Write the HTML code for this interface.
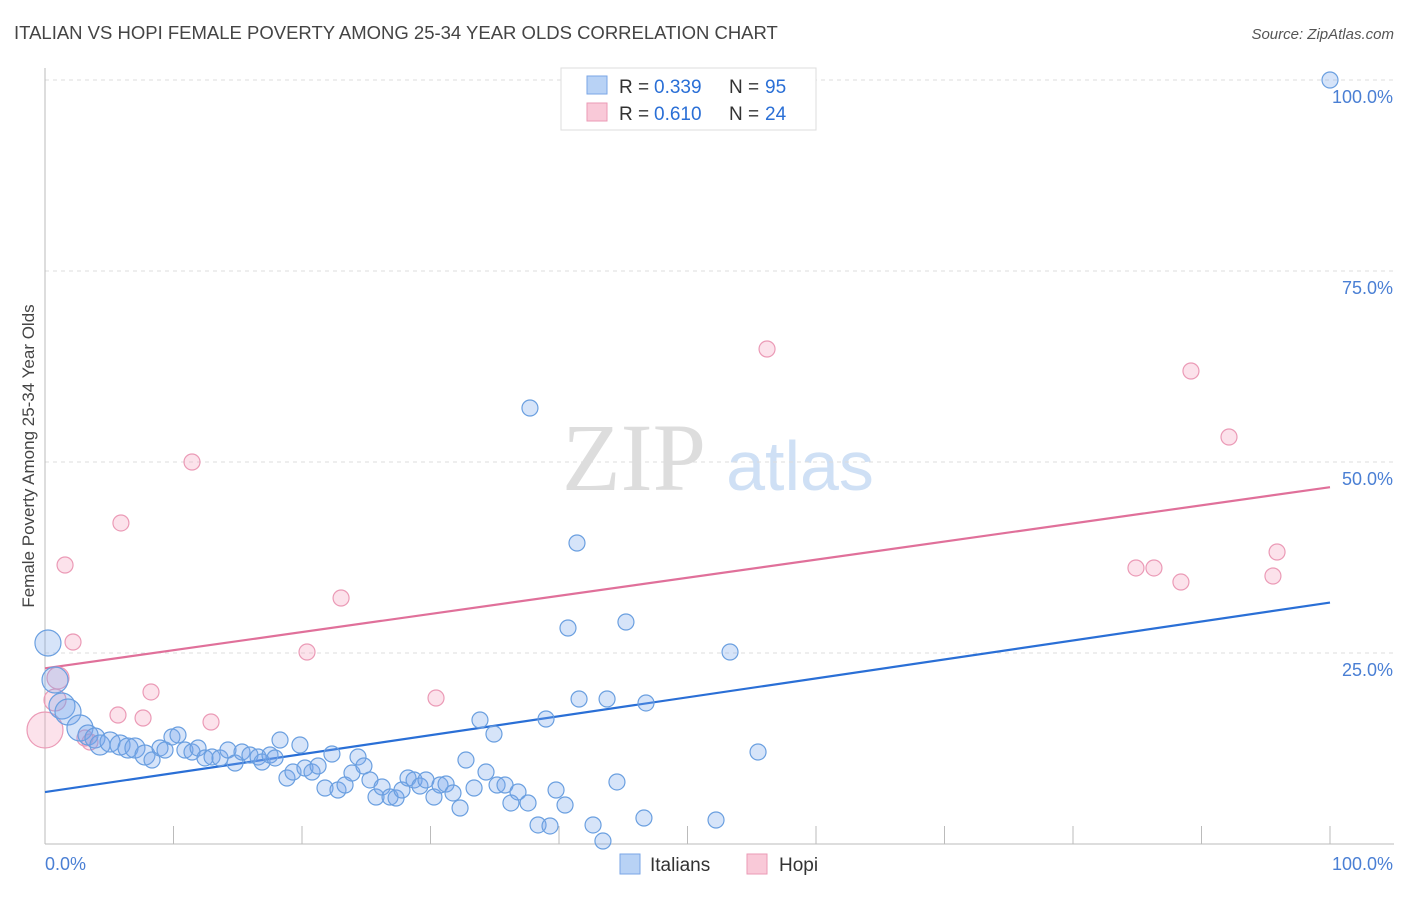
<!DOCTYPE html>
<html><head><meta charset="utf-8"><style>
body{margin:0;background:#fff;font-family:"Liberation Sans",sans-serif;}
</style></head><body>
<svg width="1406" height="892" xmlns="http://www.w3.org/2000/svg" font-family="Liberation Sans, sans-serif">
<text x="14" y="39" font-size="18.5" fill="#444">ITALIAN VS HOPI FEMALE POVERTY AMONG 25-34 YEAR OLDS CORRELATION CHART</text>
<text x="1394" y="39" font-size="15" fill="#555" font-style="italic" text-anchor="end">Source: ZipAtlas.com</text>
<text x="634" y="490" font-size="96" fill="#ddd" text-anchor="middle" font-family="Liberation Serif, serif">ZIP</text>
<text x="800" y="490" font-size="70" fill="#cfe0f5" text-anchor="middle">atlas</text>
<g id="grid"></g>
<g id="axes"></g>
<g id="lines"></g>
<g id="pts"></g>
<text x="34" y="456" font-size="17" fill="#444" text-anchor="middle" transform="rotate(-90 34 456)">Female Poverty Among 25-34 Year Olds</text>
<text x="45" y="870" font-size="18" fill="#4a7fd4">0.0%</text>
<text x="1393" y="870" font-size="18" fill="#4a7fd4" text-anchor="end">100.0%</text>
<g>
<rect x="561" y="68" width="255" height="62" fill="#fff" stroke="#ddd"/>
<rect x="587" y="76" width="20" height="18" fill="#b8d2f5" stroke="#7aa6e6"/>
<rect x="587" y="103" width="20" height="18" fill="#f9c9d8" stroke="#eb9ab6"/>
<text x="619" y="93" font-size="19" fill="#333">R =</text>
<text x="654" y="93" font-size="19" fill="#2a6fd6">0.339</text>
<text x="729" y="93" font-size="19" fill="#333">N =</text>
<text x="765" y="93" font-size="19" fill="#2a6fd6">95</text>
<text x="619" y="120" font-size="19" fill="#333">R =</text>
<text x="654" y="120" font-size="19" fill="#2a6fd6">0.610</text>
<text x="729" y="120" font-size="19" fill="#333">N =</text>
<text x="765" y="120" font-size="19" fill="#2a6fd6">24</text>
</g>
<g>
<rect x="620" y="854" width="20" height="20" fill="#b8d2f5" stroke="#7aa6e6"/>
<text x="650" y="871" font-size="19" fill="#333">Italians</text>
<rect x="747" y="854" width="20" height="20" fill="#f9c9d8" stroke="#eb9ab6"/>
<text x="779" y="871" font-size="19" fill="#333">Hopi</text>
</g>
</svg>
<script>
const yTicks=[25,50,75,100];
const xTicks=[0,10,20,30,40,50,60,70,80,90,100];
const bluePx=[[1330,80],[530,408],[577,543],[568,628],[626,622],[730,652],[579,699],[607,699],[646,703],[546,719],[480,720],[494,734],[758,752],[48,643],[55,680],[62,706],[68,712],[80,728],[88,735],[95,738],[100,745],[110,742],[120,745],[128,748],[135,748],[145,755],[152,760],[160,748],[165,750],[172,737],[178,735],[185,750],[192,752],[198,748],[205,758],[212,757],[220,758],[228,750],[235,763],[242,752],[250,755],[258,757],[262,762],[270,755],[275,758],[280,740],[287,778],[293,772],[300,745],[305,768],[312,772],[318,766],[325,788],[332,754],[338,790],[345,785],[352,773],[358,757],[364,766],[370,780],[376,797],[382,787],[390,797],[396,798],[402,790],[408,778],[414,780],[420,786],[426,780],[434,797],[440,785],[446,784],[453,793],[460,808],[466,760],[474,788],[486,772],[497,785],[505,785],[511,803],[518,792],[528,803],[538,825],[550,826],[556,790],[565,805],[593,825],[603,841],[617,782],[644,818],[716,820]];
const pinkPx=[[45,730],[55,700],[65,565],[73,642],[85,738],[118,715],[121,523],[143,718],[151,692],[192,462],[211,722],[307,652],[341,598],[436,698],[767,349],[1136,568],[1154,568],[1181,582],[1191,371],[1229,437],[1273,576],[1277,552],[58,678],[90,742]];
const blueX=bluePx.map(p=>+((p[0]-45)/12.85).toFixed(2));
const blueY=bluePx.map(p=>+((844-p[1])/7.64).toFixed(2));
const pinkX=pinkPx.map(p=>+((p[0]-45)/12.85).toFixed(2));
const pinkY=pinkPx.map(p=>+((844-p[1])/7.64).toFixed(2));
const blueTrend=[6.8,31.6];
const pinkTrend=[23.0,46.7];
const X=v=>45+v*12.85, Y=v=>844-v*7.64;
const NS="http://www.w3.org/2000/svg";
function mk(t,a,parent){const e=document.createElementNS(NS,t);for(const k in a)e.setAttribute(k,a[k]);document.getElementById(parent).appendChild(e);return e;}
yTicks.forEach(t=>{
 const l=mk('line',{x1:45,x2:1394,y1:Y(t),y2:Y(t),stroke:'#ddd','stroke-dasharray':'4,4'},'grid');
 
 
 const tx=mk('text',{x:1393,y:Y(t)+23,'font-size':18,fill:'#4a7fd4','text-anchor':'end'},'grid');
 tx.textContent=t.toFixed(1)+'%';
 
 
});
const ax=mk('line',{x1:45,x2:1394,y1:844,y2:844,stroke:'#bbb'},'axes');


const ay=mk('line',{x1:45,x2:45,y1:68,y2:844,stroke:'#bbb'},'axes');


xTicks.forEach(t=>{
 const l=mk('line',{x1:X(t),x2:X(t),y1:826,y2:844,stroke:'#bbb'},'axes');
 
 
});
const bl=mk('line',{x1:X(0),y1:Y(blueTrend[0]),x2:X(100),y2:Y(blueTrend[1]),stroke:'#2a6fd6','stroke-width':2.2},'lines');


const pl=mk('line',{x1:X(0),y1:Y(pinkTrend[0]),x2:X(100),y2:Y(pinkTrend[1]),stroke:'#e0709a','stroke-width':2.2},'lines');


function r(x){return x<3?13:x<8?10:8;}
pinkX.forEach((x,i)=>{
 const c=mk('circle',{cx:X(x),cy:Y(pinkY[i]),r:i==0?18:(i==1||i==22?11:8),fill:'rgba(244,160,190,0.3)',stroke:'#eb9ab6','stroke-width':1.2},'pts');
 
 
});
blueX.forEach((x,i)=>{
 const c=mk('circle',{cx:X(x),cy:Y(blueY[i]),r:r(x),fill:'rgba(120,165,235,0.3)',stroke:'#6a9fe0','stroke-width':1.2},'pts');
 
 
});
</script>
</body></html>
